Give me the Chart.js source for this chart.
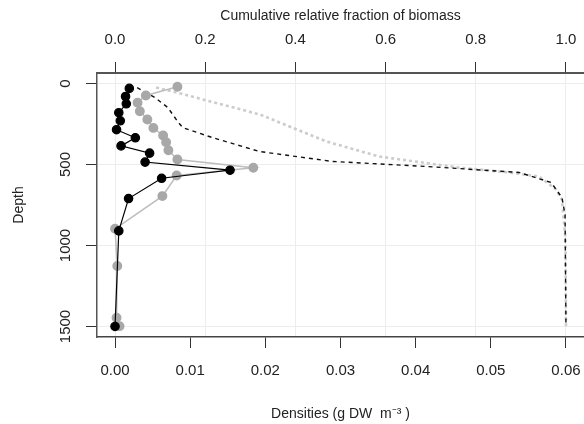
<!DOCTYPE html>
<html>
<head>
<meta charset="utf-8">
<script src="https://cdn.jsdelivr.net/npm/chart.js@4"></script>
<style>
  body { margin: 0; background: #fff; }
  canvas { display: block; }
</style>
</head>
<body>
<canvas id="chart" width="584" height="424"></canvas>
<script>
// profili gustoce po dubini (procitano sa slike)
const dubineCrna = [30, 80, 125, 180, 230, 285, 335, 385, 430, 485, 535, 585, 710, 910, 1500];
const gustoceCrna = [0.0019, 0.0014, 0.0015, 0.0005, 0.0007, 0.0002, 0.0027, 0.0008, 0.0046, 0.0040, 0.0153, 0.0062, 0.0018, 0.0005, 0.0000];

const dubineSiva = [20, 74, 119, 171, 222, 274, 321, 362, 412, 469, 520, 568, 695, 897, 1127, 1446, 1498];
const gustoceSiva = [0.0083, 0.0041, 0.0030, 0.0033, 0.0043, 0.0051, 0.0064, 0.0068, 0.0071, 0.0083, 0.0184, 0.0082, 0.0063, 0.0000, 0.0003, 0.0002, 0.0006];

// kumulativni udio biomase
const kumDubineCrna = [25, 86, 148, 235, 272, 333, 420, 481, 512, 549, 611, 704, 809, 1500];
const kumUdioCrna = [0.049, 0.088, 0.117, 0.139, 0.150, 0.215, 0.321, 0.482, 0.690, 0.896, 0.967, 0.991, 0.998, 1.0];

const kumDubineSiva = [25, 56, 191, 358, 451, 519, 549, 574, 654, 716, 963, 1500];
const kumUdioSiva = [0.091, 0.137, 0.321, 0.469, 0.586, 0.763, 0.874, 0.940, 0.978, 0.991, 0.999, 1.0];

// oznake osa
const tickoviGustoca = [0, 0.01, 0.02, 0.03, 0.04, 0.05, 0.06];
const tickoviUdio = [0, 0.2, 0.4, 0.6, 0.8, 1.0];
const tickoviDubina = [0, 500, 1000, 1500];

const tacke = (xs, ys) => xs.map((x, i) => ({ x: x, y: ys[i] }));

const font = 'Liberation Sans, Arial, Helvetica, sans-serif';
const tickFont = { family: font, size: 15 };
const titleFont = { family: font, size: 14 };

// bez automatskog odmicanja ruba zbog sirine oznaka
const bezPaddinga = s => { s.paddingLeft = 0; s.paddingRight = 0; };

new Chart(document.getElementById('chart'), {
    type: 'scatter',
    data: {
        datasets: [
            {
                label: 'crna',
                data: tacke(gustoceCrna, dubineCrna),
                showLine: true,
                borderColor: '#000',
                backgroundColor: '#000',
                borderWidth: 1.2,
                pointRadius: 4.2,
                xAxisID: 'x',
                yAxisID: 'y'
            },
            {
                label: 'siva',
                data: tacke(gustoceSiva, dubineSiva),
                showLine: true,
                borderColor: '#bdbdbd',
                backgroundColor: '#a8a8a8',
                pointBorderColor: '#a8a8a8',
                borderWidth: 1.5,
                pointRadius: 4.2,
                xAxisID: 'x',
                yAxisID: 'y'
            },
            {
                label: 'kum crna',
                data: tacke(kumUdioCrna, kumDubineCrna),
                showLine: true,
                borderColor: '#111',
                borderWidth: 1.4,
                borderDash: [4, 4],
                pointRadius: 0,
                xAxisID: 'x2',
                yAxisID: 'y'
            },
            {
                label: 'kum siva',
                data: tacke(kumUdioSiva, kumDubineSiva),
                showLine: true,
                borderColor: '#cccccc',
                borderWidth: 2.6,
                borderDash: [3, 3],
                pointRadius: 0,
                xAxisID: 'x2',
                yAxisID: 'y'
            }
        ]
    },
    options: {
        responsive: false,
        animation: false,
        devicePixelRatio: 1,
        layout: { padding: 0, autoPadding: false },
        plugins: {
            legend: { display: false },
            tooltip: { enabled: false }
        },
        scales: {
            x: {
                type: 'linear',
                position: 'bottom',
                min: -0.0024,
                max: 0.0624,
                afterBuildTicks: s => { s.ticks = tickoviGustoca.map(v => ({ value: v })); },
                afterFit: s => { s.height = 87; bezPaddinga(s); },
                ticks: {
                    font: tickFont,
                    color: '#222',
                    padding: 14,
                    maxRotation: 0,
                    callback: v => v.toFixed(2)
                },
                grid: {
                    drawOnChartArea: false,
                    drawTicks: true,
                    tickLength: 11,
                    tickColor: '#333'
                },
                border: { color: '#444', width: 1.5 },
                title: {
                    display: true,
                    text: 'Densities (g DW  m\u207B\u00B3 )',
                    font: titleFont,
                    color: '#222',
                    padding: { top: 0, bottom: 1 }
                }
            },
            x2: {
                type: 'linear',
                position: 'top',
                min: -0.04,
                max: 1.04,
                afterBuildTicks: s => { s.ticks = tickoviUdio.map(v => ({ value: v })); },
                afterFit: s => { s.height = 73; bezPaddinga(s); },
                ticks: {
                    font: tickFont,
                    color: '#222',
                    padding: 13,
                    maxRotation: 0,
                    callback: v => v.toFixed(1)
                },
                grid: {
                    color: '#ededed',
                    lineWidth: 1,
                    drawTicks: true,
                    tickLength: 11,
                    tickColor: '#333'
                },
                border: { color: '#555', width: 2 },
                title: {
                    display: true,
                    text: 'Cumulative relative fraction of biomass',
                    font: titleFont,
                    color: '#222',
                    padding: { top: 8, bottom: 0 }
                }
            },
            y: {
                type: 'linear',
                position: 'left',
                reverse: true,
                min: -65,
                max: 1565,
                afterBuildTicks: s => { s.ticks = tickoviDubina.map(v => ({ value: v })); },
                afterFit: s => { s.width = 97; s.paddingTop = 0; s.paddingBottom = 0; },
                ticks: {
                    font: tickFont,
                    color: '#222',
                    padding: 3,
                    minRotation: 90,
                    maxRotation: 90,
                    crossAlign: 'center',
                    callback: v => String(v)
                },
                grid: {
                    color: '#ededed',
                    lineWidth: 1,
                    drawTicks: true,
                    tickLength: 11,
                    tickColor: '#333'
                },
                border: { color: '#555', width: 1.5 },
                title: {
                    display: true,
                    text: 'Depth',
                    font: titleFont,
                    color: '#222',
                    padding: { top: 11, bottom: 0 }
                }
            }
        }
    }
});
</script>
</body>
</html>
